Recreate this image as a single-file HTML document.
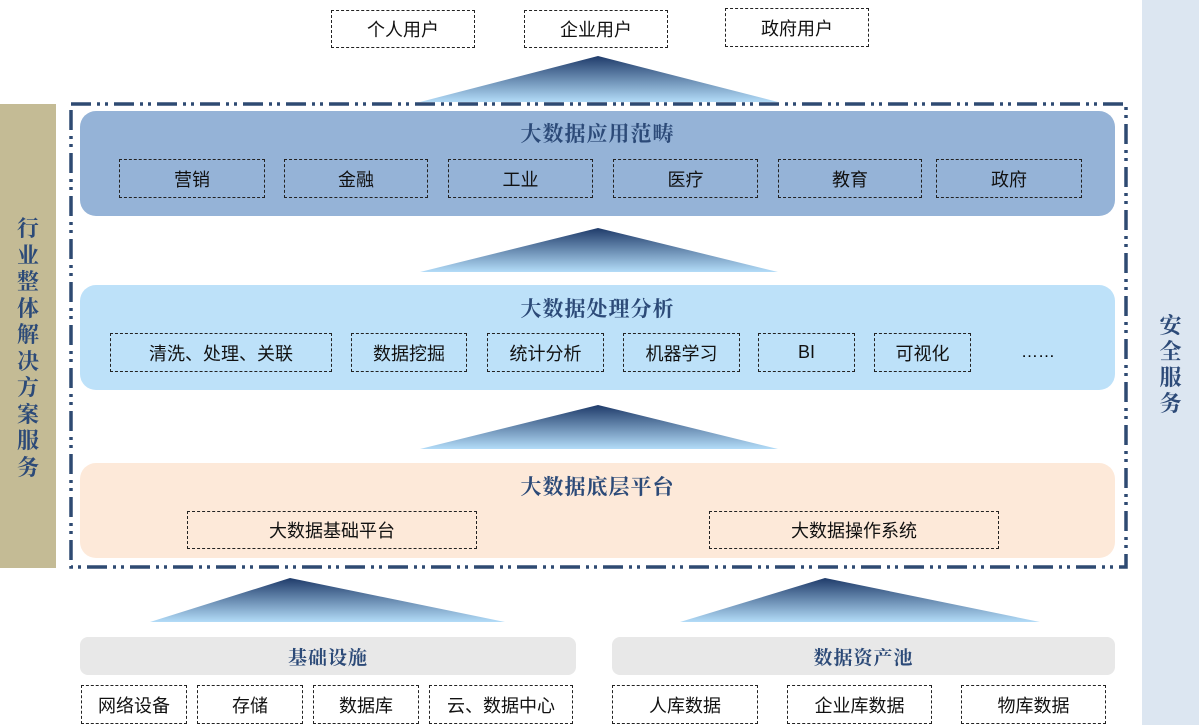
<!DOCTYPE html>
<html><head><meta charset="utf-8"><style>
body{margin:0;width:1199px;height:725px;position:relative;background:#fff;overflow:hidden;font-family:"Liberation Sans","Noto Sans CJK SC",sans-serif;}
.a{position:absolute;box-sizing:border-box;}
.b{position:absolute;box-sizing:border-box;border:1.5px dashed #222;display:flex;align-items:center;justify-content:center;font-size:18px;color:#111;}
.layer{position:absolute;border-radius:16px;}
.t{position:absolute;left:80px;width:1035px;text-align:center;font-family:"Liberation Serif","Noto Serif CJK SC",serif;font-weight:bold;font-size:21px;color:#2c4a78;letter-spacing:1px;}
.g{position:absolute;background:#e8e8e8;border-radius:8px;display:flex;align-items:center;justify-content:center;font-family:"Liberation Serif","Noto Serif CJK SC",serif;font-weight:bold;font-size:19px;color:#2c4a78;letter-spacing:1px;}
.v{position:absolute;font-family:"Liberation Serif","Noto Serif CJK SC",serif;font-weight:bold;color:#2c4a78;font-size:22px;line-height:26px;text-align:center;}
</style></head><body>
<div class="a" style="left:1142px;top:0;width:57px;height:725px;background:#dce6f1"></div>
<div class="v" style="left:1142px;width:57px;top:313px;">安<br>全<br>服<br>务</div>
<div class="a" style="left:0;top:104px;width:56px;height:464px;background:#c4bb95"></div>
<div class="v" style="left:0;width:56px;top:216px;line-height:26.5px">行<br>业<br>整<br>体<br>解<br>决<br>方<br>案<br>服<br>务</div>

<svg class="a" style="left:0;top:0" width="1199" height="725">
<defs><linearGradient id="gr" x1="0" y1="0" x2="0" y2="1"><stop offset="0" stop-color="#1f3b6a"/><stop offset="1" stop-color="#b3dcf8"/></linearGradient></defs>
<polygon points="598,56 778,102 420,102" fill="url(#gr)"/>
<polygon points="598,228 778,272 420,272" fill="url(#gr)"/>
<polygon points="598,405 778,449 420,449" fill="url(#gr)"/>
<polygon points="290,578 505,622 150,622" fill="url(#gr)"/>
<polygon points="825,578 1040,622 680,622" fill="url(#gr)"/>
<rect x="71" y="104" width="1055" height="463" fill="none" stroke="#2e4a72" stroke-width="3.5" stroke-dasharray="20,6,3,5,3,6"/>
</svg>

<div class="b" style="left:331px;top:10px;width:144px;height:38px">个人用户</div>
<div class="b" style="left:524px;top:10px;width:144px;height:38px">企业用户</div>
<div class="b" style="left:725px;top:8px;width:144px;height:39px">政府用户</div>

<div class="layer" style="left:80px;top:111px;width:1035px;height:105px;background:#95b3d7"></div>
<div class="t" style="top:118px">大数据应用范畴</div>
<div class="b" style="left:119px;top:159px;width:146px;height:39px">营销</div>
<div class="b" style="left:284px;top:159px;width:144px;height:39px">金融</div>
<div class="b" style="left:448px;top:159px;width:145px;height:39px">工业</div>
<div class="b" style="left:613px;top:159px;width:145px;height:39px">医疗</div>
<div class="b" style="left:778px;top:159px;width:144px;height:39px">教育</div>
<div class="b" style="left:936px;top:159px;width:146px;height:39px">政府</div>

<div class="layer" style="left:80px;top:285px;width:1035px;height:105px;background:#bde1f9"></div>
<div class="t" style="top:293px">大数据处理分析</div>
<div class="b" style="left:110px;top:333px;width:222px;height:39px">清洗、处理、关联</div>
<div class="b" style="left:351px;top:333px;width:116px;height:39px">数据挖掘</div>
<div class="b" style="left:487px;top:333px;width:117px;height:39px">统计分析</div>
<div class="b" style="left:623px;top:333px;width:117px;height:39px">机器学习</div>
<div class="b" style="left:758px;top:333px;width:97px;height:39px">BI</div>
<div class="b" style="left:874px;top:333px;width:97px;height:39px">可视化</div>
<div class="a" style="left:1010px;top:342px;width:56px;text-align:center;font-size:17px">……</div>

<div class="layer" style="left:80px;top:463px;width:1035px;height:95px;background:#fde9d9"></div>
<div class="t" style="top:471px">大数据底层平台</div>
<div class="b" style="left:187px;top:511px;width:290px;height:38px">大数据基础平台</div>
<div class="b" style="left:709px;top:511px;width:290px;height:38px">大数据操作系统</div>

<div class="g" style="left:80px;top:637px;width:496px;height:38px">基础设施</div>
<div class="g" style="left:612px;top:637px;width:503px;height:38px">数据资产池</div>
<div class="b" style="left:81px;top:685px;width:106px;height:39px">网络设备</div>
<div class="b" style="left:197px;top:685px;width:106px;height:39px">存储</div>
<div class="b" style="left:313px;top:685px;width:106px;height:39px">数据库</div>
<div class="b" style="left:429px;top:685px;width:144px;height:39px">云、数据中心</div>
<div class="b" style="left:612px;top:685px;width:146px;height:39px">人库数据</div>
<div class="b" style="left:787px;top:685px;width:145px;height:39px">企业库数据</div>
<div class="b" style="left:961px;top:685px;width:145px;height:39px">物库数据</div>
</body></html>
